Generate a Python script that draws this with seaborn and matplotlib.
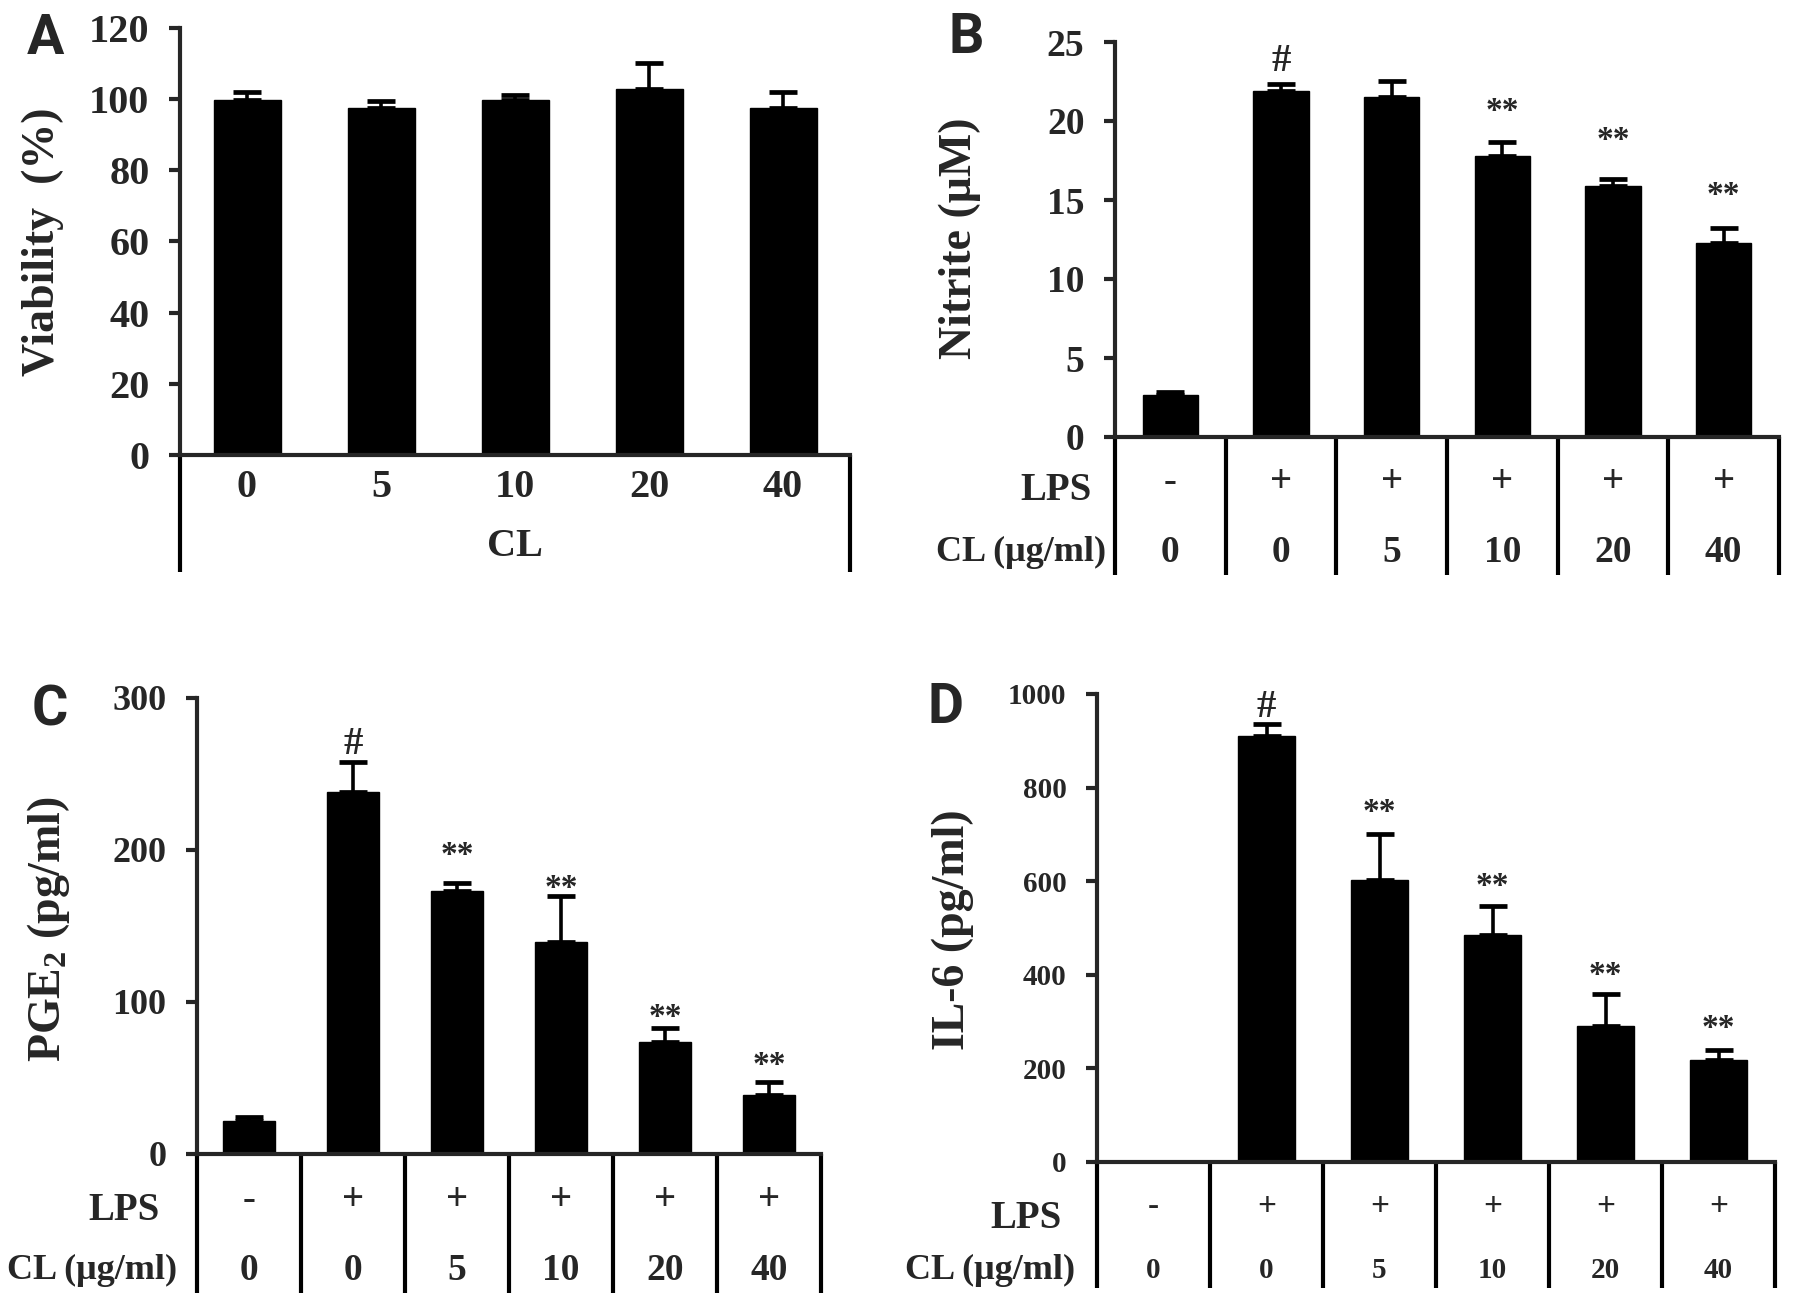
import numpy as np
import pandas as pd
import matplotlib
matplotlib.use("Agg")
import matplotlib.pyplot as plt
import matplotlib.transforms as mtransforms
import seaborn as sns

# ---- data ----
cl_doses_a = ["0", "5", "10", "20", "40"]
viability = [99.7, 97.5, 99.7, 102.8, 97.5]
viability_err = [2.3, 2.1, 1.4, 7.5, 4.5]

lps_row = ["-", "+", "+", "+", "+", "+"]
cl_row = ["0", "0", "5", "10", "20", "40"]
groups = ["ctrl", "lps", "cl5", "cl10", "cl20", "cl40"]

nitrite = [2.65, 21.9, 21.5, 17.8, 15.9, 12.25]
nitrite_err = [0.2, 0.45, 1.05, 0.85, 0.45, 1.0]
nitrite_marks = ["", "#", "", "**", "**", "**"]
nitrite_mark_y = [0, 24.3, 0, 21.1, 19.3, 15.8]

pge2 = [21.7, 238, 172.7, 139.8, 73.5, 39]
pge2_err = [2.5, 20, 5.6, 30, 9.5, 8.4]
pge2_marks = ["", "#", "**", "**", "**", "**"]
pge2_mark_y = [0, 275, 202, 180, 95, 63.5]

il6 = [0, 911, 602, 484, 290, 219]
il6_err = [0, 24, 98, 64, 68, 21]
il6_marks = ["", "#", "**", "**", "**", "**"]
il6_mark_y = [0, 988, 765, 606, 416, 303]

W, H = 1795, 1314

sns.set_style("ticks")
plt.rcParams["font.family"] = ["Liberation Serif", "DejaVu Serif"]
plt.rcParams["font.weight"] = "bold"
plt.rcParams["mathtext.fontset"] = "custom"
plt.rcParams["mathtext.rm"] = "Liberation Serif:bold"
plt.rcParams["mathtext.bf"] = "Liberation Serif:bold"
plt.rcParams["mathtext.it"] = "Liberation Serif:bold"

fig = plt.figure(figsize=(W / 100, H / 100), dpi=100)


def make_axes(left, right, top, zero):
    return fig.add_axes([left / W, 1 - zero / H, (right - left) / W, (zero - top) / H])


def fy(ax_zero, ax_top, py):
    # pixel row -> axes fraction
    return (ax_zero - py) / (ax_zero - ax_top)


def panel(left, right, top, zero, bottom, labels, values, errs, ymax, ystep,
          tick_size, ylabel, ylabel_xy, letter, letter_xy, dividers="all",
          marks=None, mark_y=None):
    ax = make_axes(left, right, top, zero)
    df = pd.DataFrame({"group": labels, "value": values})
    sns.barplot(data=df, x="group", y="value", color="black", width=0.5,
                saturation=1, errorbar=None, ax=ax, edgecolor="black")
    n = len(labels)
    xs = np.arange(n)
    errs = np.array(errs, dtype=float)
    keep = errs > 0
    ax.errorbar(xs[keep], np.array(values)[keep],
                yerr=[np.zeros(keep.sum()), errs[keep]],
                fmt="none", ecolor="black", elinewidth=2.6, capsize=10, capthick=3.4)
    ax.set_xlim(-0.5, n - 0.5)
    ax.set_ylim(0, ymax)
    ax.set_yticks(np.arange(0, ymax + ystep / 2, ystep))
    ax.set_xticks([])
    ax.set_xlabel("")
    ax.set_ylabel("")
    sns.despine(ax=ax)
    for sp in ["left", "bottom"]:
        ax.spines[sp].set_linewidth(3)
    ax.tick_params(axis="y", length=8, width=3, pad=14, labelsize=tick_size)
    for t in ax.get_yticklabels():
        t.set_fontweight("bold")
    trans = mtransforms.blended_transform_factory(ax.transData, ax.transAxes)
    yb = fy(zero, top, bottom)
    if dividers == "all":
        dxs = np.arange(n + 1) - 0.5
    else:
        dxs = [-0.5, n - 0.5]
    for dx in dxs:
        ax.plot([dx, dx], [0, yb], transform=trans, color="black", lw=3,
                clip_on=False, solid_capstyle="butt")
    if marks is not None:
        for x, m, my in zip(xs, marks, mark_y):
            if m:
                ax.annotate(m, (x, my), xytext=(0, -6), textcoords="offset points",
                            ha="center", va="center",
                            fontsize=28 if m == "#" else 24, fontweight="bold")
    fig.text(ylabel_xy[0] / W, 1 - ylabel_xy[1] / H, ylabel, rotation=90,
             ha="center", va="center", fontsize=33, fontweight="bold")
    fig.text(letter_xy[0] / W, 1 - letter_xy[1] / H, letter, ha="center", va="center",
             fontsize=40, fontweight="bold", family=["Roboto", "DejaVu Sans"])
    return ax, trans


def table_rows(ax, trans, top, zero, n, sign_y, lps_xy, cl_y, cl_xy,
               val_size, sign_size, lab_size=28, cl_lab_size=26):
    for x in range(n):
        ax.text(x, fy(zero, top, sign_y), lps_row[x], transform=trans, ha="center",
                va="center", fontsize=sign_size, fontweight="bold")
        ax.text(x, fy(zero, top, cl_y), cl_row[x], transform=trans, ha="center",
                va="center", fontsize=val_size, fontweight="bold")
    fig.text(lps_xy[0] / W, 1 - lps_xy[1] / H, "LPS", ha="right", va="center",
             fontsize=lab_size, fontweight="bold")
    fig.text(cl_xy[0] / W, 1 - cl_xy[1] / H, "CL (\u03bcg/ml)", ha="right", va="center",
             fontsize=cl_lab_size, fontweight="bold")


# A: viability
axA, trA = panel(180, 850, 28, 455, 572, cl_doses_a, viability, viability_err, 120, 20,
                 29, "Viability  (%)", (43, 242), "A", (45, 39), dividers="ends")
for x, lab in enumerate(cl_doses_a):
    axA.text(x, fy(455, 28, 488), lab, transform=trA, ha="center", va="center",
             fontsize=29, fontweight="bold")
axA.text(0.5, fy(455, 28, 547), "CL", transform=axA.transAxes, ha="center", va="center",
         fontsize=29, fontweight="bold")

# B: nitrite
axB, trB = panel(1115, 1779, 42, 437, 575, groups, nitrite, nitrite_err, 25, 5,
                 27, "Nitrite (\u03bcM)", (960, 238), "B", (966, 38),
                 marks=nitrite_marks, mark_y=nitrite_mark_y)
table_rows(axB, trB, 42, 437, 6, 482, (1092, 490), 552, (1106, 552), 27, 28)

# C: PGE2
axC, trC = panel(197, 821, 698, 1154, 1293, groups, pge2, pge2_err, 300, 100,
                 26, r"PGE$_{2}$ (pg/ml)", (48, 929), "C", (50, 710),
                 marks=pge2_marks, mark_y=pge2_mark_y)
table_rows(axC, trC, 698, 1154, 6, 1201, (160, 1210), 1270, (177, 1270), 27, 28)

# D: IL-6
axD, trD = panel(1097, 1775, 694, 1162, 1288, groups, il6, il6_err, 1000, 200,
                 21, "IL-6 (pg/ml)", (953, 930), "D", (946, 708),
                 marks=il6_marks, mark_y=il6_mark_y)
table_rows(axD, trD, 694, 1162, 6, 1207, (1062, 1218), 1270, (1075, 1270), 21, 24)

fig.savefig("out.png", dpi=100)
